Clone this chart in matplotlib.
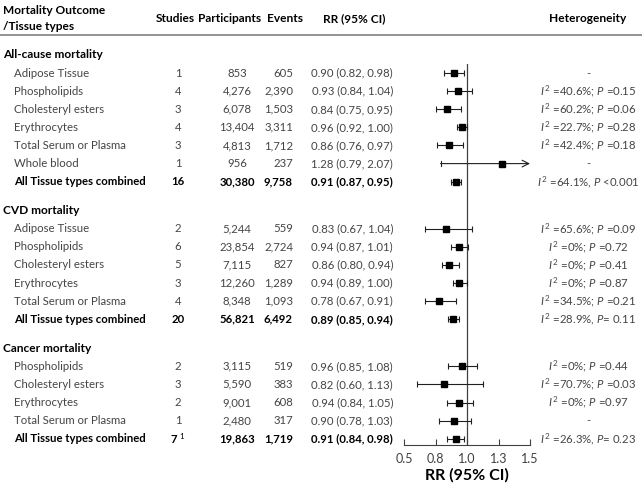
import matplotlib.pyplot as plt
import matplotlib.transforms as mtransforms

plt.rcParams['font.family'] = ['Lato', 'DejaVu Sans']
plt.rcParams['mathtext.fontset'] = 'custom'
plt.rcParams['mathtext.rm'] = 'Lato'
plt.rcParams['mathtext.it'] = 'Lato:italic'
plt.rcParams['mathtext.bf'] = 'Lato:bold'

# Data
sections = ['All-cause mortality', 'CVD mortality', 'Cancer mortality']

allcause_tissue = ['Adipose Tissue', 'Phospholipids', 'Cholesteryl esters', 'Erythrocytes',
                   'Total Serum or Plasma', 'Whole blood', 'All Tissue types combined']
allcause_studies = ['1', '4', '3', '4', '3', '1', '16']
allcause_part = ['853', '4,276', '6,078', '13,404', '4,813', '956', '30,380']
allcause_events = ['605', '2,390', '1,503', '3,311', '1,712', '237', '9,758']
allcause_rr = [0.90, 0.93, 0.84, 0.96, 0.86, 1.28, 0.91]
allcause_lo = [0.82, 0.84, 0.75, 0.92, 0.76, 0.79, 0.87]
allcause_hi = [0.98, 1.04, 0.95, 1.00, 0.97, 2.07, 0.95]
allcause_het = ['-', r'$I^{\,2}$ =40.6%; $P$ =0.15', r'$I^{\,2}$ =60.2%; $P$ =0.06',
                r'$I^{\,2}$ =22.7%; $P$ =0.28', r'$I^{\,2}$ =42.4%; $P$ =0.18', '-',
                r'$I^{\,2}$ =64.1%, $P$ <0.001']

cvd_tissue = ['Adipose Tissue', 'Phospholipids', 'Cholesteryl esters', 'Erythrocytes',
              'Total Serum or Plasma', 'All Tissue types combined']
cvd_studies = ['2', '6', '5', '3', '4', '20']
cvd_part = ['5,244', '23,854', '7,115', '12,260', '8,348', '56,821']
cvd_events = ['559', '2,724', '827', '1,289', '1,093', '6,492']
cvd_rr = [0.83, 0.94, 0.86, 0.94, 0.78, 0.89]
cvd_lo = [0.67, 0.87, 0.80, 0.89, 0.67, 0.85]
cvd_hi = [1.04, 1.01, 0.94, 1.00, 0.91, 0.94]
cvd_het = [r'$I^{\,2}$ =65.6%; $P$ =0.09', r'$I^{\,2}$ =0%; $P$ =0.72', r'$I^{\,2}$ =0%; $P$ =0.41',
           r'$I^{\,2}$ =0%; $P$ =0.87', r'$I^{\,2}$ =34.5%; $P$ =0.21', r'$I^{\,2}$ =28.9%, $P$= 0.11']

cancer_tissue = ['Phospholipids', 'Cholesteryl esters', 'Erythrocytes',
                 'Total Serum or Plasma', 'All Tissue types combined']
cancer_studies = ['2', '3', '2', '1', r'7 $^{\mathit{1}}$']
cancer_part = ['3,115', '5,590', '9,001', '2,480', '19,863']
cancer_events = ['519', '383', '608', '317', '1,719']
cancer_rr = [0.96, 0.82, 0.94, 0.90, 0.91]
cancer_lo = [0.85, 0.60, 0.84, 0.78, 0.84]
cancer_hi = [1.08, 1.13, 1.05, 1.03, 0.98]
cancer_het = [r'$I^{\,2}$ =0%; $P$ =0.44', r'$I^{\,2}$ =70.7%; $P$ =0.03', r'$I^{\,2}$ =0%; $P$ =0.97', '-',
              r'$I^{\,2}$ =26.3%, $P$= 0.23']

groups = [
    (allcause_tissue, allcause_studies, allcause_part, allcause_events, allcause_rr, allcause_lo, allcause_hi, allcause_het),
    (cvd_tissue, cvd_studies, cvd_part, cvd_events, cvd_rr, cvd_lo, cvd_hi, cvd_het),
    (cancer_tissue, cancer_studies, cancer_part, cancer_events, cancer_rr, cancer_lo, cancer_hi, cancer_het),
]

W, H = 642, 492
fig = plt.figure(figsize=(W / 100, H / 100), dpi=100)

# forest axes: rows are spaced 18.1 px, first section header at 55 px
row_px = 18.1
y0_px = 55
top_px, bot_px = 64, 445
ax = fig.add_axes([404 / W, 1 - bot_px / H, 126 / W, (bot_px - top_px) / H])
ax.set_xlim(0.5, 1.5)
ax.set_ylim((bot_px - y0_px) / row_px, (top_px - y0_px) / row_px)
for s in ['top', 'right', 'left']:
    ax.spines[s].set_visible(False)
ax.spines['bottom'].set_color('#404040')
ax.spines['bottom'].set_linewidth(0.8)
ax.set_yticks([])
ax.set_xticks([0.5, 0.75, 1.0, 1.25, 1.5])
ax.set_xticklabels(['0.5', '0.8', '1.0', '1.3', '1.5'])
ax.tick_params(axis='x', direction='in', length=4, width=0.8, color='#404040',
               labelsize=9, labelcolor='#404040', pad=6)
ax.set_xlabel('RR (95% CI)', fontsize=11.5, fontweight='bold', labelpad=2)
ax.axvline(1.0, color='#404040', lw=0.9, zorder=1)

tr = mtransforms.blended_transform_factory(fig.transFigure, ax.transData)
grey = '#454545'
fs = 8.2

# header
fig.text(3 / W, 1 - 11 / H, 'Mortality Outcome', fontsize=8.6, fontweight='bold', va='center', ha='left')
fig.text(3 / W, 1 - 27 / H, '/Tissue types', fontsize=8.6, fontweight='bold', va='center', ha='left')
fig.text(175 / W, 1 - 19 / H, 'Studies', fontsize=8.6, fontweight='bold', va='center', ha='center')
fig.text(230 / W, 1 - 19 / H, 'Participants', fontsize=8.6, fontweight='bold', va='center', ha='center')
fig.text(303 / W, 1 - 19 / H, 'Events', fontsize=8.6, fontweight='bold', va='center', ha='right')
fig.text(354 / W, 1 - 19 / H, 'RR (95% CI)', fontsize=8.6, fontweight='bold', va='center', ha='center')
fig.text(588 / W, 1 - 19 / H, 'Heterogeneity', fontsize=8.6, fontweight='bold', va='center', ha='center')
fig.add_artist(plt.Line2D([0, 1], [1 - 35 / H, 1 - 35 / H], transform=fig.transFigure,
                          color='#808080', lw=1.2))

y = 0.0
for title, g in zip(sections, groups):
    tissue, studies, part, events, rr, lo, hi, het = g
    ax.text(3 / W, y, title, transform=tr, fontsize=8.6, fontweight='bold', va='center', ha='left')
    y += 1
    for i in range(len(tissue)):
        last = i == len(tissue) - 1
        kw = dict(transform=tr, fontsize=fs, va='center',
                  color='black' if last else grey,
                  fontweight='bold' if last else 'normal')
        ax.text(14 / W, y, tissue[i], ha='left', **kw)
        ax.text(178 / W, y, studies[i], ha='center', **kw)
        ax.text(237 / W, y, part[i], ha='center', **kw)
        ax.text(293 / W, y, events[i], ha='right', **kw)
        ax.text(393 / W, y, f'{rr[i]:.2f} ({lo[i]:.2f}, {hi[i]:.2f})', ha='right', **kw)
        kw['fontweight'] = 'normal'
        kw['color'] = grey
        ax.text(588 / W, y, het[i], ha='center', **kw)

        if hi[i] > 1.5:
            ax.annotate('', xy=(1.5, y), xytext=(lo[i], y),
                        arrowprops=dict(arrowstyle='->', color='#202020', lw=0.8,
                                        shrinkA=0, shrinkB=0, mutation_scale=12))
            ax.plot([lo[i], lo[i]], [y - 0.15, y + 0.15], color='#202020', lw=0.8)
        else:
            ax.errorbar(rr[i], y, xerr=[[rr[i] - lo[i]], [hi[i] - rr[i]]], fmt='none',
                        ecolor='#202020', elinewidth=0.8, capsize=2, capthick=0.8, zorder=2)
        ax.plot(rr[i], y, marker='s', color='black', markersize=4.8, zorder=3)
        y += 1
    y += 0.6

fig.savefig('out.png', dpi=100)
